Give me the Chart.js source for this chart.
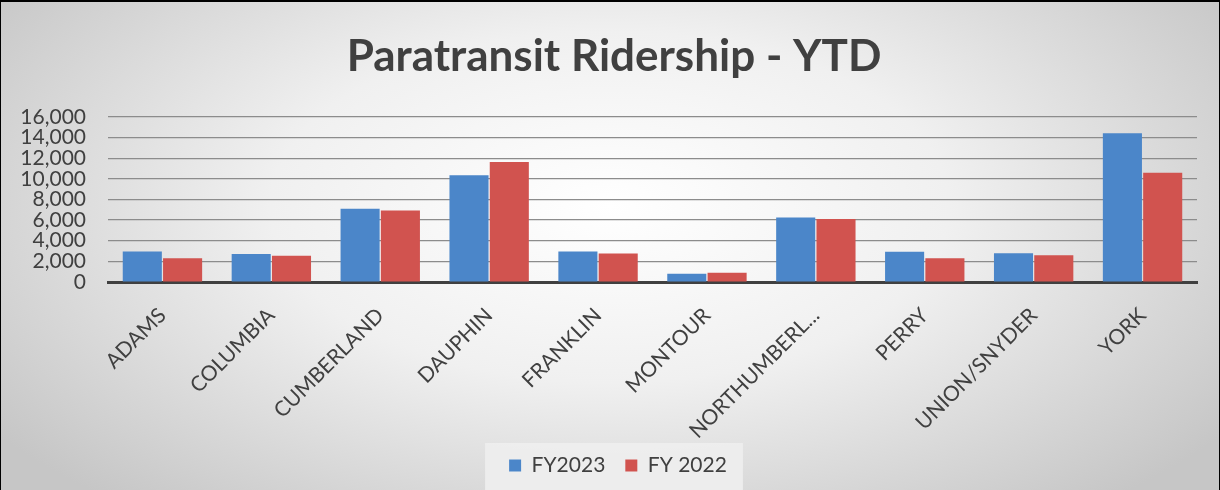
<!DOCTYPE html>
<html>
<head>
<meta charset="utf-8">
<script src="https://cdn.jsdelivr.net/npm/chart.js@4"></script>
<style>
  html, body { margin: 0; padding: 0; }
  #wrap {
    position: relative;
    width: 1220px;
    height: 490px;
    box-sizing: border-box;
    border-top: 2px solid #000;
    border-left: 1px solid #000;
    border-right: 1px solid #000;
    background: radial-gradient(ellipse 62% 80% at 50% 42%, #ffffff 0%, #f0f0f0 45%, #c6c6c6 100%);
  }
</style>
</head>
<body>
<div id="wrap"><canvas id="ridership" width="1217" height="488"></canvas></div>
<script>
// Paratransit ridership by county
const counties = ["ADAMS", "COLUMBIA", "CUMBERLAND", "DAUPHIN", "FRANKLIN", "MONTOUR",
  "NORTHUMBERL...", "PERRY", "UNION/SNYDER", "YORK"];
const fy2023 = [2960, 2700, 7100, 10330, 2960, 790, 6250, 2930, 2790, 14400];
const fy2022 = [2310, 2540, 6930, 11620, 2760, 890, 6090, 2310, 2600, 10590];
const yTicks = [0, 2000, 4000, 6000, 8000, 10000, 12000, 14000, 16000];

const textColor = '#404040';

// title and legend sit a little right of the canvas centre in the original
const nudge = {
  id: 'nudge',
  afterLayout(chart) {
    const t = chart.titleBlock;
    if (t) { t.left += 15; t.right += 15; }
    const lg = chart.legend;
    if (lg) {
      lg.left += 19; lg.right += 19;
      (lg.legendHitBoxes || []).forEach(b => { b.left += 19; });
    }
    // let the long rotated labels run a bit below the axis box (no clipping)
    if (chart.scales.x) chart.scales.x.bottom += 14;
  }
};

// light panel behind the legend items
const legendPanel = {
  id: 'legendPanel',
  beforeDraw(chart) {
    const lg = chart.legend;
    if (!lg || !lg.legendHitBoxes || !lg.legendHitBoxes.length) return;
    const boxes = lg.legendHitBoxes;
    const left = Math.min(...boxes.map(b => b.left)) - 24;
    const right = Math.max(...boxes.map(b => b.left + b.width)) + 16;
    const top = lg.top + 8;
    const ctx = chart.ctx;
    ctx.save();
    ctx.fillStyle = 'rgba(238,238,238,0.9)';
    ctx.fillRect(left, top, right - left, chart.height - top);
    ctx.restore();
  }
};

new Chart(document.getElementById("ridership"), {
  type: 'bar',
  data: {
    labels: counties,
    datasets: [{
      label: "FY2023",
      data: fy2023,
      backgroundColor: "#4b86c9",
      categoryPercentage: 0.74,
      barPercentage: 0.97
    }, {
      label: "FY 2022",
      data: fy2022,
      backgroundColor: "#d1534f",
      categoryPercentage: 0.74,
      barPercentage: 0.97
    }]
  },
  options: {
    responsive: false,
    animation: false,
    layout: { padding: { left: 0, right: 21, top: 0, bottom: 4 } },
    plugins: {
      title: {
        display: true,
        text: 'Paratransit Ridership - YTD',
        color: textColor,
        font: { family: 'Lato', size: 44, weight: 'bold' },
        padding: { top: 28, bottom: 34 }
      },
      legend: {
        position: 'bottom',
        labels: {
          color: textColor,
          font: { family: 'Lato', size: 21 },
          boxWidth: 12,
          boxHeight: 12,
          padding: 20
        }
      },
      tooltip: { enabled: false }
    },
    scales: {
      x: {
        grid: { display: false },
        border: { display: true, color: '#404040', width: 3 },
        ticks: {
          color: textColor,
          font: { family: 'Lato', size: 21 },
          minRotation: 45,
          maxRotation: 45,
          autoSkip: false,
          padding: 13
        },
        afterFit: function(scale) { scale.height = 153; }
      },
      y: {
        min: 0,
        max: 16000,
        afterBuildTicks: function(scale) {
          scale.ticks = yTicks.map(v => ({ value: v }));
        },
        grid: { color: '#8c8c8c', lineWidth: 1.2, drawTicks: false },
        border: { display: false },
        ticks: {
          color: textColor,
          font: { family: 'Lato', size: 21, lineHeight: 1 },
          autoSkip: false,
          padding: 22
        },
        afterFit: function(scale) { scale.width = 107; }
      }
    }
  },
  plugins: [nudge, legendPanel]
});
</script>
</body>
</html>
